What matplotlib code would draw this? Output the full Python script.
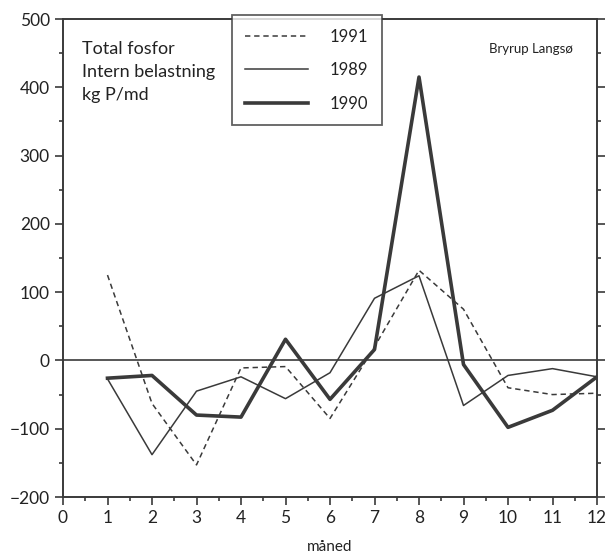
import matplotlib
matplotlib.use("Agg")
import matplotlib.pyplot as plt
from matplotlib.ticker import MultipleLocator

months = [1, 2, 3, 4, 5, 6, 7, 8, 9, 10, 11, 12]
y1991 = [125, -63, -153, -11, -9, -85, 20, 132, 75, -40, -50, -48]
y1989 = [-27, -138, -45, -24, -56, -18, 91, 124, -66, -22, -12, -24]
y1990 = [-26, -22, -80, -83, 31, -57, 16, 415, -6, -98, -73, -24]

plt.rcParams['font.family'] = ['Lato', 'DejaVu Sans']
ink = '#3a3a3a'

fig = plt.figure(figsize=(6.06, 5.56), dpi=100)
ax = fig.add_axes([63/606, 1-497/556, (597-63)/606, (497-19)/556])

ax.plot(months, y1991, color=ink, lw=1.1, ls=(0, (3.5, 2.5)), label='1991')
ax.plot(months, y1989, color=ink, lw=1.1, label='1989')
ax.plot(months, y1990, color=ink, lw=2.6, label='1990')
ax.axhline(0, color=ink, lw=1.2)

ax.set_xlim(0, 12)
ax.set_ylim(-200, 500)
ax.xaxis.set_major_locator(MultipleLocator(1))
ax.xaxis.set_minor_locator(MultipleLocator(0.5))
ax.yaxis.set_major_locator(MultipleLocator(100))
ax.yaxis.set_minor_locator(MultipleLocator(50))
ax.tick_params(axis='both', which='major', direction='out', length=6, width=1.2,
               colors=ink, labelsize=12.5, labelcolor='#222222')
ax.tick_params(axis='both', which='minor', direction='out', length=3, width=1.2, colors=ink)
ax.tick_params(axis='y', which='both', right=True, labelright=False)
for s in ax.spines.values():
    s.set_color(ink)
    s.set_linewidth(1.4)

# right-side ticks point inward
for t in ax.yaxis.get_major_ticks() + ax.yaxis.get_minor_ticks():
    t.tick2line.set_marker(matplotlib.lines.TICKRIGHT)

ax.set_xlabel('måned', fontsize=11, color='#222222', labelpad=10)

ax.text(0.035, 0.955, 'Total fosfor\nIntern belastning\nkg P/md', transform=ax.transAxes,
        fontsize=13, va='top', ha='left', linespacing=1.55, color='#222222')
ax.text(0.955, 0.95, 'Bryrup Langsø', transform=ax.transAxes,
        fontsize=9.5, va='top', ha='right', color='#222222')

leg = ax.legend(loc='upper left', bbox_to_anchor=(0.316, 1.008), borderaxespad=0,
                frameon=True, fancybox=False, edgecolor=ink, fontsize=12,
                handlelength=3.8, handletextpad=1.3, borderpad=0.8, labelspacing=1.05,
                markerfirst=True)
leg.get_frame().set_linewidth(1.3)
for t in leg.get_texts():
    t.set_color('#222222')

fig.savefig('out.png', dpi=100)
